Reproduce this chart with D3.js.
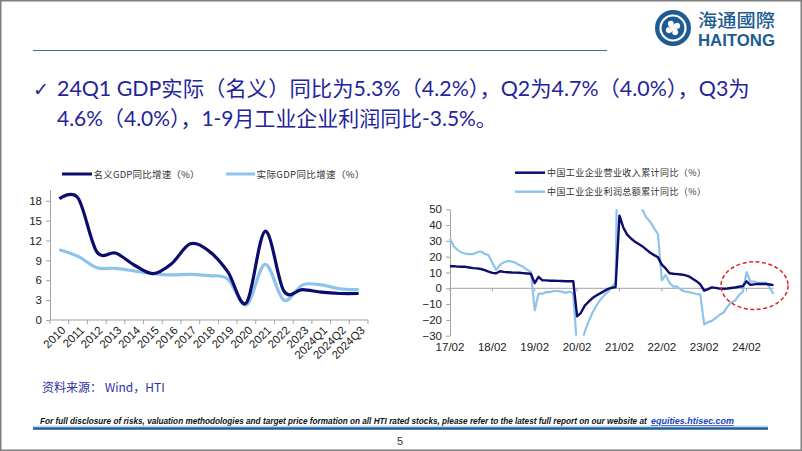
<!DOCTYPE html>
<html><head><meta charset="utf-8">
<script src="https://cdn.jsdelivr.net/npm/d3@7"></script>
<style>
html,body{margin:0;padding:0;background:#fff;}
svg{display:block;}
</style></head>
<body>
<svg id="c" width="802" height="451"></svg>
<script>
// ---------------- DATA ----------------
const gdpCategories = ["2010","2011","2012","2013","2014","2015","2016","2017","2018","2019","2020","2021","2022","2023","2024Q1","2024Q2","2024Q3"];
const nominalGDP = [18.3, 18.4, 10.3, 10.1, 8.3, 7.0, 8.5, 11.5, 10.4, 7.3, 2.6, 13.4, 4.4, 4.6, 4.2, 4.0, 4.0];
const realGDP    = [10.6, 9.6, 7.9, 7.8, 7.4, 7.0, 6.8, 6.9, 6.7, 6.2, 2.3, 8.4, 3.0, 5.3, 5.3, 4.7, 4.6];
const gdpTicks = [0, 3, 6, 9, 12, 15, 18];

const indYears = ["17","18","19","20","21","22","23","24"];
const indMonths = ["02","03","04","05","06","07","08","09","10","11","12"];
const indTickLabels = ["17/02","18/02","19/02","20/02","21/02","22/02","23/02","24/02"];
const indTicks = [50, 40, 30, 20, 10, 0, -10, -20, -30];
// cumulative yoy, Feb..Dec each year, 2024 to Sep
const revenueYoY = [
  14.0, 14.0, 13.7, 13.6, 13.6, 13.2, 12.8, 12.6, 12.2, 11.5, 10.5,
  9.8, 9.5, 10.8, 10.4, 10.2, 10.0, 9.9, 9.8, 9.6, 9.4, 9.2,
  3.3, 7.3, 5.0, 5.0, 4.8, 4.8, 4.7, 4.6, 4.5, 4.5, 4.5,
  -17.7, -15.5, -11.0, -8.5, -6.2, -4.6, -3.2, -1.8, -0.4, 0.3, 0.8,
  46.0, 38.5, 34.0, 31.5, 29.5, 28.0, 26.5, 24.5, 22.5, 21.0, 19.6,
  15.0, 12.6, 9.5, 9.2, 9.0, 8.7, 8.3, 7.6, 6.0, 4.5, 2.5,
  -1.5, -0.5, 0.6, 0.3, -0.2, -0.3, -0.1, 0.2, 0.5, 1.0, 1.3,
  4.4, 2.2, 2.5, 2.8, 2.7, 2.8, 2.4, 2.0
];
const profitYoY = [
  31.5, 26.5, 24.2, 22.7, 22.0, 21.6, 21.6, 22.8, 23.3, 21.9, 21.0,
  16.1, 11.6, 15.0, 16.5, 17.2, 17.1, 16.2, 14.7, 13.6, 11.8, 10.3,
  -14.0, -3.3, -3.4, -2.3, -2.4, -1.7, -1.7, -2.1, -2.9, -2.1, -3.3,
  -38.3, -36.7, -27.4, -21.0, -15.5, -11.0, -7.4, -4.5, -2.2, 1.0, 3.5,
  178.9, 137.3, 106.0, 83.4, 66.9, 57.3, 49.5, 44.7, 42.2, 38.0, 34.3,
  5.0, 8.5, 3.5, 1.0, 1.0, -1.1, -2.1, -2.3, -3.0, -3.6, -4.0,
  -22.9, -21.4, -20.6, -18.8, -16.8, -15.5, -11.7, -9.0, -7.8, -4.4, -2.3,
  10.2, 4.3, 4.3, 3.4, 3.5, 3.6, 0.5, -3.5
];

// month categories
const indCategories = [];
indYears.forEach(y => indMonths.forEach(m => indCategories.push(y + "/" + m)));
indCategories.length = revenueYoY.length;

// ---------------- STYLE ----------------
const DARK = "#0c0c6e";
const LIGHT = "#8ec4ec";
const AXIS = "#a3a3a3";
const BLUE_TXT = "#24249c";
const LOGO = "#1c5b94";
const FONT = "'Liberation Sans', Arial, 'Noto Sans CJK SC', sans-serif";
const CJK = "'Noto Sans CJK SC', sans-serif";

const svg = d3.select("#c");

// fit a text horizontally into a width by scaling (keeps bbox honest)
function fitText(sel, x, y, width) {
  const w = sel.node().getComputedTextLength();
  const k = w > 0 ? width / w : 1;
  sel.attr("x", 0).attr("y", 0).attr("transform", `translate(${x},${y}) scale(${k},1)`);
  return sel;
}

// slide frame
svg.append("rect").attr("x",0.75).attr("y",0.75).attr("width",800.5).attr("height",449.5)
  .attr("fill","none").attr("stroke","#7f7f7f").attr("stroke-width",1.5);

// ---------- header ----------
svg.append("line").attr("x1",33).attr("x2",607).attr("y1",50.5).attr("y2",50.5)
  .attr("stroke","#3a6fa8").attr("stroke-width",1);

// logo
const lg = svg.append("g").attr("transform","translate(673,28)");
lg.append("circle").attr("r",18).attr("fill",LOGO);
lg.append("circle").attr("r",12.5).attr("fill","none").attr("stroke","#fff").attr("stroke-width",2.2);
[0,90,180,270].forEach(a=>{
  lg.append("path").attr("transform",`rotate(${a})`)
    .attr("d","M0,-3 C4,-7 8,-5 7,-1 C6,2 2,1 0,-3 Z").attr("fill","#fff");
});
lg.append("circle").attr("r",2.6).attr("fill","#fff");
fitText(svg.append("text").attr("font-family",CJK).attr("font-size",18.5)
  .attr("font-weight",500).attr("fill",LOGO).text("海通國際"), 698, 27, 77);
fitText(svg.append("text").attr("font-family","'Liberation Sans', Arial, sans-serif").attr("font-size",17)
  .attr("font-weight",700).attr("fill",LOGO).text("HAITONG"), 698, 46, 77);

// bullet text
const HFONT = "Lato, 'Noto Sans CJK SC', sans-serif";
svg.append("text").attr("x",33).attr("y",96).attr("font-family","'DejaVu Sans', sans-serif").attr("font-size",19)
  .attr("fill",BLUE_TXT).text("✓");
fitText(svg.append("text").attr("font-family",HFONT).attr("font-size",21)
  .attr("fill",BLUE_TXT).text("24Q1 GDP实际（名义）同比为5.3%（4.2%），Q2为4.7%（4.0%），Q3为"), 57, 96, 693);
fitText(svg.append("text").attr("font-family",HFONT).attr("font-size",21)
  .attr("fill",BLUE_TXT).text("4.6%（4.0%），1-9月工业企业利润同比-3.5%。"), 57, 126, 440);

// ---------- LEFT CHART ----------
const xL = d3.scaleBand().domain(gdpCategories).range([50,368]).padding(0);
const yL = d3.scaleLinear().domain([0,19.7]).range([320,189.5]);
const gL = svg.append("g");

const yAxL = gL.append("g").attr("transform","translate(50,0)")
  .call(d3.axisLeft(yL).tickValues(gdpTicks).tickSize(4).tickSizeOuter(0).tickPadding(4));
yAxL.select(".domain").attr("stroke",AXIS);
yAxL.selectAll(".tick line").attr("stroke",AXIS);
yAxL.selectAll("text").attr("font-family",FONT).attr("font-size",11.5).attr("fill","#222");

// x axis line + boundary ticks
gL.append("line").attr("x1",xL.range()[0]).attr("x2",xL.range()[1]).attr("y1",yL(0)).attr("y2",yL(0)).attr("stroke",AXIS);
const bounds = gdpCategories.map(d=>xL(d)).concat([xL.range()[1]]);
gL.selectAll(".xtick").data(bounds).enter().append("line")
  .attr("x1",d=>d).attr("x2",d=>d).attr("y1",yL(0)).attr("y2",yL(0)+4).attr("stroke",AXIS);
gL.selectAll(".xlab").data(gdpCategories).enter().append("text")
  .attr("transform",d=>`translate(${xL(d)+xL.bandwidth()/2+4},${yL(0)+8}) rotate(-45)`)
  .attr("text-anchor","end").attr("dy","0.35em")
  .attr("font-family",FONT).attr("font-size",11.5).attr("fill","#222").text(d=>d);

const lineL = d3.line().x((d,i)=>xL(gdpCategories[i])+xL.bandwidth()/2).y(d=>yL(d)).curve(d3.curveCardinal.tension(0));
gL.append("path").attr("d",lineL(realGDP)).attr("fill","none").attr("stroke",LIGHT).attr("stroke-width",3.2);
gL.append("path").attr("d",lineL(nominalGDP)).attr("fill","none").attr("stroke",DARK).attr("stroke-width",3.2);

// legend
gL.append("line").attr("x1",62).attr("x2",92).attr("y1",174).attr("y2",174).attr("stroke",DARK).attr("stroke-width",3);
gL.append("text").attr("x",93.5).attr("y",177.5).attr("font-family",CJK).attr("font-size",9.5).attr("fill","#333")
  .attr("textLength",106).attr("lengthAdjust","spacing").text("名义GDP同比增速（%）");
gL.append("line").attr("x1",226).attr("x2",255).attr("y1",174).attr("y2",174).attr("stroke",LIGHT).attr("stroke-width",3);
gL.append("text").attr("x",256.5).attr("y",177.5).attr("font-family",CJK).attr("font-size",9.5).attr("fill","#333")
  .attr("textLength",108).attr("lengthAdjust","spacing").text("实际GDP同比增速（%）");

// ---------- RIGHT CHART ----------
const xR = d3.scalePoint().domain(indCategories).range([450,773.5]);
const yR = d3.scaleLinear().domain([-30,50]).range([335.7,209.3]);
const gR = svg.append("g");

svg.append("defs").append("clipPath").attr("id","clipR").append("rect")
  .attr("x",448).attr("y",yR(50)).attr("width",345).attr("height",yR(-30)-yR(50));

const yAxR = gR.append("g").attr("transform","translate(450,0)")
  .call(d3.axisLeft(yR).tickValues(indTicks).tickSize(4).tickSizeOuter(0).tickPadding(4));
yAxR.select(".domain").attr("stroke",AXIS);
yAxR.selectAll(".tick line").attr("stroke",AXIS);
yAxR.selectAll("text").attr("font-family",FONT).attr("font-size",11.5).attr("fill","#222");

// zero line + ticks
gR.append("line").attr("x1",xR.range()[0]).attr("x2",xR.range()[1]).attr("y1",yR(0)).attr("y2",yR(0)).attr("stroke",AXIS);
gR.selectAll(".rtick").data(indTickLabels).enter().append("line")
  .attr("x1",d=>xR(d)).attr("x2",d=>xR(d)).attr("y1",yR(0)).attr("y2",yR(0)+3).attr("stroke",AXIS);
gR.selectAll(".rlab").data(indTickLabels).enter().append("text")
  .attr("x",d=>xR(d)).attr("y",351).attr("text-anchor","middle")
  .attr("font-family",FONT).attr("font-size",11.5).attr("fill","#222").text(d=>d);

const lineR = d3.line().x((d,i)=>xR(indCategories[i])).y(d=>yR(d));
const lines = gR.append("g").attr("clip-path","url(#clipR)");
lines.append("path").attr("d",lineR(profitYoY)).attr("fill","none").attr("stroke",LIGHT).attr("stroke-width",2.2).attr("stroke-linejoin","round");
lines.append("path").attr("d",lineR(revenueYoY)).attr("fill","none").attr("stroke",DARK).attr("stroke-width",2.4).attr("stroke-linejoin","round");

// legend
gR.append("line").attr("x1",515).attr("x2",545).attr("y1",172.7).attr("y2",172.7).attr("stroke",DARK).attr("stroke-width",2.5);
gR.append("text").attr("x",547).attr("y",176).attr("font-family",CJK).attr("font-size",9).attr("fill","#333")
  .attr("textLength",159).attr("lengthAdjust","spacing").text("中国工业企业营业收入累计同比（%）");
gR.append("line").attr("x1",515).attr("x2",545).attr("y1",191.7).attr("y2",191.7).attr("stroke",LIGHT).attr("stroke-width",2.5);
gR.append("text").attr("x",547).attr("y",195).attr("font-family",CJK).attr("font-size",9).attr("fill","#333")
  .attr("textLength",159).attr("lengthAdjust","spacing").text("中国工业企业利润总额累计同比（%）");

// red dashed ellipse annotation
gR.append("ellipse").attr("cx",xR("24/02")+8).attr("cy",yR(1.7)).attr("rx",33.5).attr("ry",23.8)
  .attr("fill","none").attr("stroke","#e52222").attr("stroke-width",1.5).attr("stroke-dasharray","4,2.5");

// ---------- footer ----------
svg.append("text").attr("x",42).attr("y",392).attr("font-family",CJK).attr("font-size",12).attr("fill","#3030a8")
  .text("资料来源： Wind，HTI");

fitText(svg.append("text").attr("font-family","'Liberation Sans', Arial, sans-serif")
  .attr("font-size",9).attr("font-style","italic").attr("font-weight",700).attr("fill","#111")
  .text("For full disclosure of risks, valuation methodologies and target price formation on all HTI rated stocks, please refer to the latest full report on our website at"),
  40, 424, 607);
fitText(svg.append("text").attr("font-family","'Liberation Sans', Arial, sans-serif")
  .attr("font-size",9).attr("font-style","italic").attr("font-weight",700).attr("fill","#1a3fbf")
  .attr("text-decoration","underline").text("equities.htisec.com"), 651, 424, 83);

svg.append("line").attr("x1",33).attr("x2",768).attr("y1",426.2).attr("y2",426.2).attr("stroke","#a8cbe8").attr("stroke-width",1);
svg.append("line").attr("x1",33).attr("x2",768).attr("y1",428.5).attr("y2",428.5).attr("stroke","#1f5c99").attr("stroke-width",2.6);
svg.append("text").attr("x",400).attr("y",445).attr("text-anchor","middle").attr("font-family","'Liberation Sans', Arial, sans-serif")
  .attr("font-size",11).attr("fill","#333").text("5");
</script>
</body></html>
